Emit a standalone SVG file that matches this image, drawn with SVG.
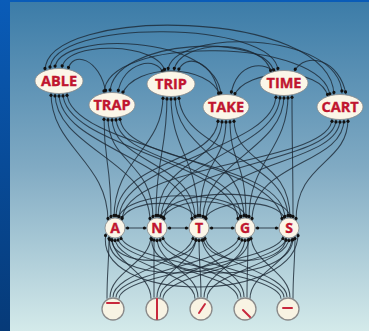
<svg xmlns="http://www.w3.org/2000/svg" width="369" height="331" viewBox="0 0 369 331">
<defs>
<linearGradient id="bg" x1="0" y1="0" x2="0" y2="1">
<stop offset="0" stop-color="#3c7ca8"/>
<stop offset="0.5" stop-color="#80aac3"/>
<stop offset="1" stop-color="#d4eaea"/>
</linearGradient>
<linearGradient id="side" x1="0" y1="0" x2="0" y2="1">
<stop offset="0" stop-color="#0a5cb8"/>
<stop offset="1" stop-color="#063a78"/>
</linearGradient>
<marker id="d" viewBox="0 0 6 4" refX="4.6" refY="2" markerWidth="6" markerHeight="4" markerUnits="userSpaceOnUse" orient="auto-start-reverse">
<circle cx="2" cy="2" r="1.6" fill="#111"/>
</marker>
<style>
.c{fill:none;stroke:#1c2834;stroke-opacity:0.8;stroke-width:1.05}
.b{marker-start:url(#d);marker-end:url(#d)}
.e{marker-end:url(#d)}
.w{fill:#fbf6e8;stroke:#8a8a8a;stroke-width:0.8}
.l{fill:#fbf6e8;stroke:#8a8a8a;stroke-width:0.8}
.f{fill:#f8f3e3;stroke:#8a8a8a;stroke-width:1.3}
.t{font-family:"Open Sans","DejaVu Sans",sans-serif;font-weight:bold;fill:#c0152f;stroke:#c0152f;stroke-width:0.35;text-anchor:middle}
.m{stroke:#c8283c;stroke-width:2;stroke-linecap:round}
</style>
</defs>
<rect x="0" y="0" width="369" height="331" fill="url(#side)"/>
<rect x="10" y="2" width="359" height="329" fill="url(#bg)"/>
<g id="connectors">
<!-- word-word -->
<path class="c b" d="M68 70 C72 50 100 58 106 93"/>
<path class="c b" d="M62 68.5 C64 40 160 42 165 72"/>
<path class="c b" d="M55 68.6 C56 30 218 34 221 95.5"/>
<path class="c b" d="M50 69.5 C50 18 276 20 278 71"/>
<path class="c b" d="M45 71 C44 5 332 8 334 95"/>
<path class="c b" d="M118 93 C122 62 158 55 163 73.5"/>
<path class="c b" d="M122 94.5 C135 62 210 64 220 95.5"/>
<path class="c b" d="M110 92.5 C112 38 268 32 274 72.5"/>
<path class="c b" d="M104 93.5 C104 34 326 38 330 96.5"/>
<path class="c b" d="M178 71.5 C185 52 214 60 219 96"/>
<path class="c b" d="M174 71 C178 38 266 38 271 73"/>
<path class="c b" d="M168 71 C170 28 340 30 342 93.5"/>
<path class="c b" d="M231 94.5 C236 62 266 60 276 74"/>
<path class="c b" d="M234 96 C245 68 322 66 328 97"/>
<path class="c b" d="M294 71.5 C306 50 340 60 346 94.5"/>
<!-- word-letter -->
<path class="c b" d="M51 92.7 C51 148 108 161 108 221"/>
<path class="c b" d="M55 93.3 C55 148 150 161 150 221"/>
<path class="c b" d="M59 93.5 C59 148 192 161 192 221"/>
<path class="c b" d="M63 93.3 C63 148 238 161 238 221"/>
<path class="c b" d="M67 92.7 C67 148 282 161 282 221"/>
<path class="c b" d="M104 116.7 C104 165 111 160 111 219"/>
<path class="c b" d="M108 117.3 C108 165 153 160 153 219"/>
<path class="c b" d="M112 117.5 C112 165 195 160 195 219"/>
<path class="c b" d="M116 117.3 C116 165 241 160 241 219"/>
<path class="c b" d="M120 116.7 C120 165 285 160 285 219"/>
<path class="c b" d="M163 95.7 C163 150 114 158 114 218"/>
<path class="c b" d="M167 96.3 C167 150 156 158 156 218"/>
<path class="c b" d="M171 96.5 C171 150 198 158 198 218"/>
<path class="c b" d="M175 96.3 C175 150 244 158 244 218"/>
<path class="c b" d="M179 95.7 C179 150 288 158 288 218"/>
<path class="c b" d="M218 118.7 C218 165 116 158 116 218"/>
<path class="c b" d="M222 119.3 C222 165 158 158 158 218"/>
<path class="c b" d="M226 119.5 C226 165 200 158 200 218"/>
<path class="c b" d="M230 119.3 C230 165 246 158 246 218"/>
<path class="c b" d="M234 118.7 C234 165 290 158 290 218"/>
<path class="c b" d="M276 94.7 C276 150 119 160 119 219"/>
<path class="c b" d="M280 95.3 C280 150 161 160 161 219"/>
<path class="c b" d="M284 95.5 C284 150 203 160 203 219"/>
<path class="c b" d="M288 95.3 C288 150 249 160 249 219"/>
<path class="c b" d="M292 94.7 C292 150 293 160 293 219"/>
<path class="c b" d="M332 118.7 C332 165 122 161 122 221"/>
<path class="c b" d="M336 119.3 C336 165 164 161 164 221"/>
<path class="c b" d="M340 119.5 C340 165 206 161 206 221"/>
<path class="c b" d="M344 119.3 C344 165 252 161 252 221"/>
<path class="c b" d="M348 118.7 C348 165 296 161 296 221"/>
<!-- letter-letter -->
<path class="c b" d="M125 228 L147 228"/>
<path class="c b" d="M167 228 L189 228"/>
<path class="c b" d="M209 228 L235 228"/>
<path class="c b" d="M255 228 L279 228"/>
<path class="c b" d="M121 220 C130 198 190 198 196 219"/>
<path class="c b" d="M162 219.5 C172 196 236 196 241 219"/>
<path class="c b" d="M204 219.5 C214 198 280 198 285 219.5"/>
<path class="c b" d="M118 219 C125 188 240 188 247 219"/>
<path class="c b" d="M160 218.5 C168 186 285 186 291 218.5"/>
<path class="c b" d="M106 233 C92 305 300 305 298 233"/>
<path class="c b" d="M110 237 C100 285 250 285 249 237"/>
<path class="c b" d="M152 237 C145 285 295 285 293 237"/>
<path class="c b" d="M112 237.5 C108 268 196 268 196 237.5"/>
<path class="c b" d="M203 237.5 C206 268 286 268 286 237.5"/>
<!-- feature-letter -->
<path class="c e" d="M107 298.8 C107 272 109 262 109 236"/>
<path class="c e" d="M110 297.4 C110 272 151 262 151 236"/>
<path class="c e" d="M113 297 C113 272 193 262 193 236"/>
<path class="c e" d="M116 297.4 C116 272 239 262 239 236"/>
<path class="c e" d="M119 298.8 C119 272 283 262 283 236"/>
<path class="c e" d="M151 298.8 C151 272 112 263 112 237.5"/>
<path class="c e" d="M154 297.4 C154 272 154 263 154 237.5"/>
<path class="c e" d="M157 297 C157 272 196 263 196 237.5"/>
<path class="c e" d="M160 297.4 C160 272 242 263 242 237.5"/>
<path class="c e" d="M163 298.8 C163 272 286 263 286 237.5"/>
<path class="c e" d="M195 298.8 C195 272 115 264 115 238"/>
<path class="c e" d="M198 297.4 C198 272 157 264 157 238"/>
<path class="c e" d="M201 297 C201 272 199 264 199 238"/>
<path class="c e" d="M204 297.4 C204 272 245 264 245 238"/>
<path class="c e" d="M207 298.8 C207 272 289 264 289 238"/>
<path class="c e" d="M238 298.8 C238 272 118 263 118 237.5"/>
<path class="c e" d="M241 297.4 C241 272 160 263 160 237.5"/>
<path class="c e" d="M244 297 C244 272 202 263 202 237.5"/>
<path class="c e" d="M247 297.4 C247 272 248 263 248 237.5"/>
<path class="c e" d="M250 298.8 C250 272 292 263 292 237.5"/>
<path class="c e" d="M281 298.8 C281 272 121 262 121 236"/>
<path class="c e" d="M284 297.4 C284 272 163 262 163 236"/>
<path class="c e" d="M287 297 C287 272 205 262 205 236"/>
<path class="c e" d="M290 297.4 C290 272 251 262 251 236"/>
<path class="c e" d="M293 298.8 C293 272 295 262 295 236"/>
</g>
<g id="word-ABLE"><ellipse class="w" cx="59" cy="81" rx="24" ry="12.5"/><text class="t" x="59" y="86" font-size="14.5">ABLE</text></g>
<g id="word-TRAP"><ellipse class="w" cx="112" cy="105" rx="23" ry="12.5"/><text class="t" x="112" y="110" font-size="14.5">TRAP</text></g>
<g id="word-TRIP"><ellipse class="w" cx="171" cy="84" rx="24" ry="12.5"/><text class="t" x="171" y="89" font-size="14.5">TRIP</text></g>
<g id="word-TAKE"><ellipse class="w" cx="226" cy="107" rx="23" ry="12.5"/><text class="t" x="226" y="112" font-size="14.5">TAKE</text></g>
<g id="word-TIME"><ellipse class="w" cx="284" cy="83" rx="24" ry="12.5"/><text class="t" x="284" y="88" font-size="14.5">TIME</text></g>
<g id="word-CART"><ellipse class="w" cx="340" cy="107" rx="23" ry="12.5"/><text class="t" x="340" y="112" font-size="14.5">CART</text></g>
<g id="letter-A"><circle class="l" cx="115" cy="228" r="10"/><text class="t" x="115" y="233" font-size="14">A</text></g>
<g id="letter-N"><circle class="l" cx="157" cy="228" r="10"/><text class="t" x="157" y="233" font-size="14">N</text></g>
<g id="letter-T"><circle class="l" cx="199" cy="228" r="10"/><text class="t" x="199" y="233" font-size="14">T</text></g>
<g id="letter-G"><circle class="l" cx="245" cy="228" r="10"/><text class="t" x="245" y="233" font-size="14">G</text></g>
<g id="letter-S"><circle class="l" cx="289" cy="228" r="10"/><text class="t" x="289" y="233" font-size="14">S</text></g>
<g id="feature-1"><circle class="f" cx="113" cy="309" r="11"/><line class="m" x1="107" y1="303" x2="119" y2="303"/></g>
<g id="feature-2"><circle class="f" cx="157" cy="309" r="11"/><line class="m" x1="157" y1="299" x2="157" y2="319"/></g>
<g id="feature-3"><circle class="f" cx="201" cy="309" r="11"/><line class="m" x1="199" y1="313" x2="205" y2="304"/></g>
<g id="feature-4"><circle class="f" cx="245" cy="309" r="11"/><line class="m" x1="243" y1="310" x2="250" y2="317"/></g>
<g id="feature-5"><circle class="f" cx="288" cy="309" r="11"/><line class="m" x1="283" y1="308" x2="292" y2="308"/></g>
</svg>
